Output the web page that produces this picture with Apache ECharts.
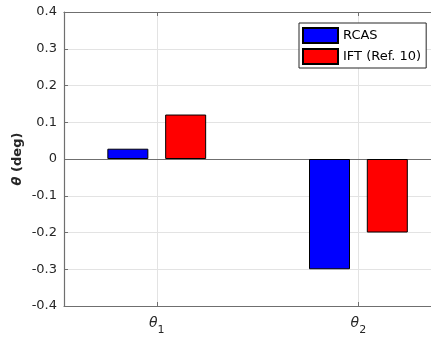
<!DOCTYPE html>
<html>
<head>
<meta charset="utf-8">
<script src="https://cdn.jsdelivr.net/npm/echarts@6/dist/echarts.min.js"></script>
<style>html,body{margin:0;padding:0;background:#fff}#c{width:431px;height:339px}</style>
</head>
<body>
<div id="c"></div>
<script>
const categories = ['1', '2'];            // theta subscripts
const categoryPos = [1, 2];
const seriesNames = ['RCAS', 'IFT (Ref. 10)'];
const rcas = [0.028, -0.30];
const ift = [0.121, -0.20];
const yTicks = [-0.4, -0.3, -0.2, -0.1, 0, 0.1, 0.2, 0.3, 0.4];

const FONT = 'DejaVu Sans';
const axisColor = '#6f6f6f';
const chart = echarts.init(document.getElementById('c'), null, {renderer: 'canvas'});
const toData = arr => arr.map((v, i) => [categoryPos[i], v]);

chart.setOption({
  animation: false,
  backgroundColor: '#fff',
  textStyle: {fontFamily: FONT},
  grid: {left: 64, right: 0, top: 12, bottom: 33, containLabel: false},
  legend: {
    orient: 'vertical', left: 299, top: 23,
    icon: 'rect', itemWidth: 35, itemHeight: 15, itemGap: 4,
    padding: [4, 5, 3, 3],
    borderColor: '#262626', borderWidth: 1, backgroundColor: '#fff',
    textStyle: {fontFamily: FONT, fontSize: 13, color: '#000', lineHeight: 15},
    data: seriesNames
  },
  xAxis: [{
    type: 'value', min: 0.54, max: 2.36,
    axisLine: {show: true, onZero: false, lineStyle: {color: axisColor, width: 1.2}},
    axisTick: {show: true, inside: true, length: 4, customValues: categoryPos, lineStyle: {color: axisColor}},
    splitLine: {show: true, lineStyle: {color: '#e3e3e3', width: 1}},
    axisLabel: {
      customValues: categoryPos, margin: 10,
      formatter: v => '{t|θ}{s|' + categories[categoryPos.indexOf(v)] + '}',
      rich: {
        t: {fontFamily: FONT, fontStyle: 'italic', fontSize: 14, color: '#262626', verticalAlign: 'top'},
        s: {fontFamily: FONT, fontSize: 11, color: '#262626', padding: [9, 0, 0, 0], verticalAlign: 'top'}
      }
    }
  }, {
    type: 'value', min: 0.54, max: 2.36, position: 'top',
    axisLine: {show: true, onZero: false, lineStyle: {color: axisColor, width: 1.2}},
    axisTick: {show: true, inside: true, length: 4, customValues: categoryPos, lineStyle: {color: axisColor}},
    splitLine: {show: false},
    axisLabel: {show: false}
  }],
  yAxis: {
    type: 'value', min: -0.4, max: 0.4, interval: 0.1,
    axisLine: {show: true, lineStyle: {color: axisColor, width: 1.2}},
    axisTick: {show: true, inside: true, length: 4, lineStyle: {color: axisColor}},
    splitLine: {show: true, lineStyle: {color: '#e3e3e3', width: 1}},
    axisLabel: {
      fontFamily: FONT, fontSize: 13, color: '#262626', margin: 7,
      formatter: v => { const r = Math.round(v * 10) / 10; return r === 0 ? '0' : String(r); }
    },
    name: '{t|θ}{b| (deg)}',
    nameLocation: 'middle', nameRotate: 90, nameGap: 40, nameMoveOverlap: false,
    nameTextStyle: {
      rich: {
        t: {fontFamily: FONT, fontWeight: 'bold', fontStyle: 'italic', fontSize: 13, color: '#262626'},
        b: {fontFamily: FONT, fontWeight: 'bold', fontSize: 13, color: '#262626'}
      }
    }
  },
  series: [{
    name: seriesNames[0], type: 'bar', data: toData(rcas),
    barWidth: 41, barGap: '41%', z: 3,
    itemStyle: {color: '#0000ff', borderColor: '#000', borderWidth: 1},
    markLine: {
      silent: true, symbol: 'none', label: {show: false}, z: 1,
      lineStyle: {color: axisColor, width: 1.2, type: 'solid'},
      data: [{yAxis: 0}]
    }
  }, {
    name: seriesNames[1], type: 'bar', data: toData(ift),
    barWidth: 41, barGap: '41%', z: 3,
    itemStyle: {color: '#ff0000', borderColor: '#000', borderWidth: 1}
  }]
});
</script>
</body>
</html>
